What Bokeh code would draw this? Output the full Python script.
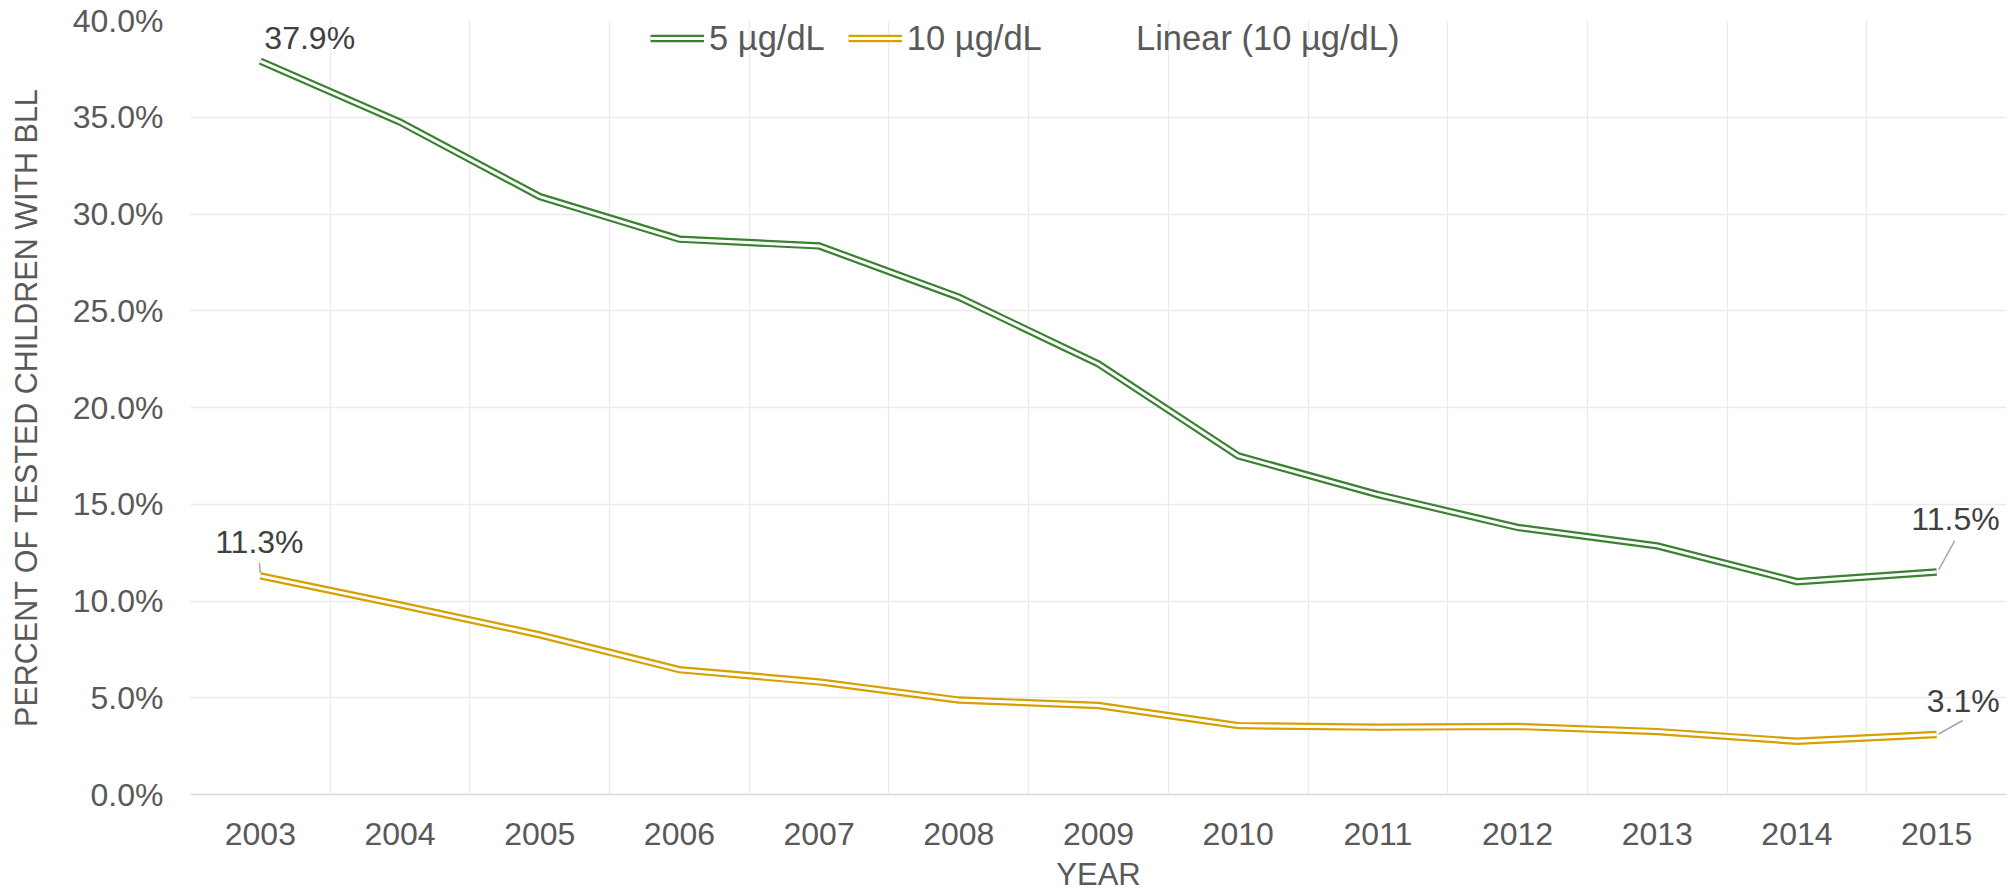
import numpy as np
from bokeh.plotting import figure
from bokeh.models import (Range1d, FixedTicker, PrintfTickFormatter, Label,
                          Legend, LegendItem, ColumnDataSource)
from bokeh.embed import file_html
from bokeh.resources import INLINE

# ---------------- data ----------------
years = ["2003", "2004", "2005", "2006", "2007", "2008", "2009",
         "2010", "2011", "2012", "2013", "2014", "2015"]
bll_5 = [37.9, 34.75, 30.9, 28.7, 28.35, 25.7, 22.25, 17.5, 15.5, 13.8, 12.85, 11.0, 11.5]
bll_10 = [11.3, 9.8, 8.25, 6.45, 5.82, 4.88, 4.6, 3.56, 3.48, 3.52, 3.25, 2.75, 3.1]
y_ticks = [0, 5, 10, 15, 20, 25, 30, 35, 40]
series_names = ["5 µg/dL", "10 µg/dL", "Linear (10 µg/dL)"]
x_title = "YEAR"
y_title = "PERCENT OF TESTED CHILDREN WITH BLL"

GREEN = "#3B8132"
GOLD = "#D6A000"
FONT = "Liberation Sans"
TICK_COLOR = "#595959"
LABEL_COLOR = "#404040"
GRID_COLOR = "#EBEBEB"
FS = "32px"
LEG_FS = "34.5px"

xs = list(range(len(years)))

# layout
W, H = 2015, 894
BL, BR, BT, BB = 190, 9, 20, 100
frame_w = W - BL - BR
frame_h = H - BT - BB
PX_X = len(years) / frame_w      # data units per pixel (x)
PX_Y = 40.0 / frame_h            # data units per pixel (y)

p = figure(width=W, height=H, output_backend="svg", toolbar_location=None,
           x_range=Range1d(-0.5, len(years) - 0.5), y_range=Range1d(0, 40),
           min_border_left=BL, min_border_right=BR, min_border_top=BT,
           min_border_bottom=BB)
p.outline_line_color = None
p.background_fill_color = "white"
p.border_fill_color = "white"

# axes
p.xaxis.ticker = FixedTicker(ticks=xs)
p.xaxis.major_label_overrides = {i: y for i, y in enumerate(years)}
p.xaxis.major_tick_line_color = None
p.xaxis.minor_tick_line_color = None
p.xaxis.axis_line_color = "#D9D9D9"
p.xaxis.axis_line_width = 1.3
p.xaxis.major_label_standoff = 22
p.xaxis.major_label_text_font = FONT
p.xaxis.major_label_text_font_size = FS
p.xaxis.major_label_text_color = TICK_COLOR
p.xaxis.axis_label = x_title
p.xaxis.axis_label_standoff = 9
p.xaxis.axis_label_text_font = FONT
p.xaxis.axis_label_text_font_size = "31px"
p.xaxis.axis_label_text_font_style = "normal"
p.xaxis.axis_label_text_color = TICK_COLOR

p.yaxis.ticker = FixedTicker(ticks=y_ticks)
p.yaxis.formatter = PrintfTickFormatter(format="%.1f%%")
p.yaxis.major_tick_line_color = None
p.yaxis.minor_tick_line_color = None
p.yaxis.axis_line_color = None
p.yaxis.major_label_standoff = 21
p.yaxis.major_label_text_font = FONT
p.yaxis.major_label_text_font_size = FS
p.yaxis.major_label_text_color = TICK_COLOR
p.yaxis.axis_label = y_title
p.yaxis.axis_label_standoff = 27
p.yaxis.axis_label_text_font = FONT
p.yaxis.axis_label_text_font_size = "30.5px"
p.yaxis.axis_label_text_font_style = "normal"
p.yaxis.axis_label_text_color = TICK_COLOR

# grids
p.xgrid.ticker = FixedTicker(ticks=[i - 0.5 for i in range(len(years) + 1)])
p.xgrid.grid_line_color = GRID_COLOR
p.xgrid.grid_line_width = 1.3
p.ygrid.ticker = FixedTicker(ticks=y_ticks)
p.ygrid.grid_line_color = GRID_COLOR
p.ygrid.grid_line_width = 1.3

# double lines (compound line style)
def double_line(vals, color):
    src = ColumnDataSource(dict(x=xs, y=vals))
    r1 = p.line("x", "y", source=src, line_color=color, line_width=7.4,
                line_join="miter")
    r2 = p.line("x", "y", source=src, line_color="white", line_width=3.0,
                line_join="miter")
    return [r1, r2]

r5 = double_line(bll_5, GREEN)
r10 = double_line(bll_10, GOLD)

# linear trendline of 10 µg/dL (present in legend, not visible)
coef = np.polyfit(xs, bll_10, 1)
trend = [coef[0] * x + coef[1] for x in xs]
rt = p.line(xs, trend, line_alpha=0, line_width=2, line_color=GOLD)

leg_style = dict(orientation="horizontal", padding=0, margin=0, spacing=23,
                 glyph_width=54, glyph_height=40, label_height=40,
                 label_standoff=5, border_line_alpha=0,
                 background_fill_alpha=0, label_text_font=FONT,
                 label_text_font_size=LEG_FS, label_text_color=TICK_COLOR)
legend1 = Legend(items=[LegendItem(label=series_names[0], renderers=r5),
                        LegendItem(label=series_names[1], renderers=r10)],
                 location=(460, frame_h - 38), **leg_style)
legend2 = Legend(items=[LegendItem(label=series_names[2], renderers=[rt])],
                 location=(887, frame_h - 38), **leg_style)
p.add_layout(legend1, "center")
p.add_layout(legend2, "center")

# data labels
def lbl(text, xi, yv, dx, dy, align):
    p.add_layout(Label(x=xi, y=yv, x_offset=dx, y_offset=dy, text=text,
                       text_align=align, text_baseline="alphabetic",
                       text_font=FONT, text_font_size=FS,
                       text_color=LABEL_COLOR))

last = len(years) - 1
lbl(f"{bll_5[0]:.1f}%", 0, bll_5[0], 4, 23.5, "left")
lbl(f"{bll_10[0]:.1f}%", 0, bll_10[0], -1, 34, "center")
lbl(f"{bll_5[last]:.1f}%", last, bll_5[last], 63, 52.5, "right")
lbl(f"{bll_10[last]:.1f}%", last, bll_10[last], 63, 33.5, "right")

# leader lines (pixel offsets converted to data units)
lead_x0 = [0 + 0 * PX_X, last + 2 * PX_X, last + 2 * PX_X]
lead_y0 = [bll_10[0] + 3 * PX_Y, bll_5[last] + 2 * PX_Y, bll_10[last] + 0.5 * PX_Y]
lead_x1 = [0 - 1 * PX_X, last + 18 * PX_X, last + 26 * PX_X]
lead_y1 = [bll_10[0] + 13 * PX_Y, bll_5[last] + 31 * PX_Y, bll_10[last] + 14 * PX_Y]
p.segment(lead_x0, lead_y0, lead_x1, lead_y1, line_color="#A6A6A6", line_width=1.5)

open("out.html", "w").write(file_html(p, INLINE))
